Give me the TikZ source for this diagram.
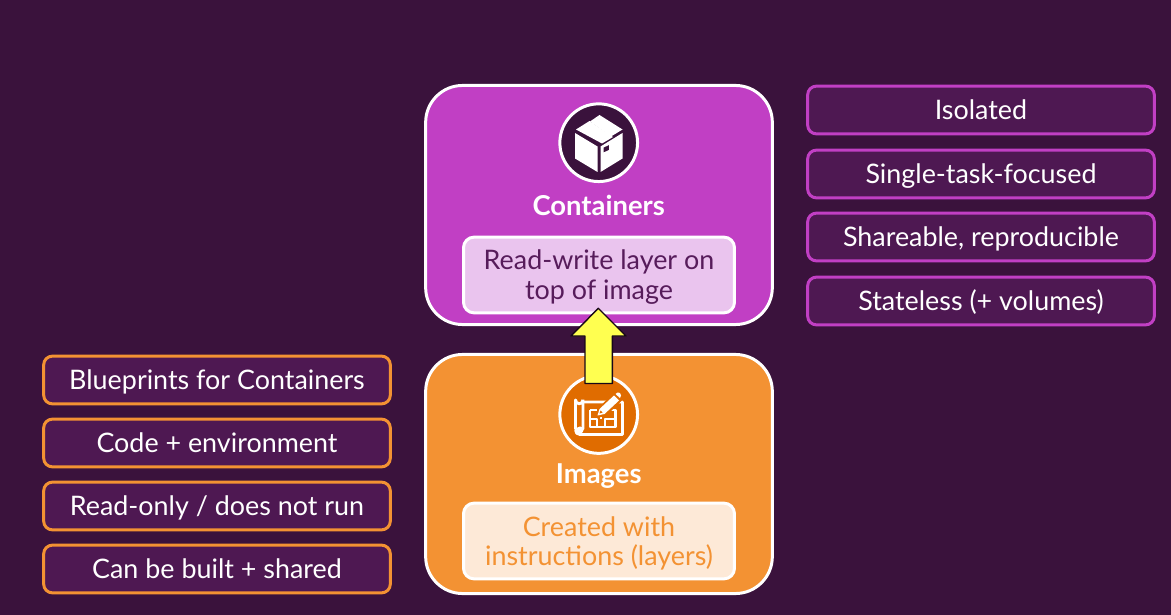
\documentclass[tikz,border=0pt]{standalone}
\usepackage{fontspec}
\setmainfont{Lato}
\definecolor{pagebg}{HTML}{3A123C}
\definecolor{tagbg}{HTML}{4E1852}
\definecolor{purplebox}{HTML}{C13FC4}
\definecolor{orangebox}{HTML}{F39233}
\definecolor{purplesoft}{HTML}{EAC4EE}
\definecolor{orangesoft}{HTML}{FDE9D7}
\definecolor{orangedeep}{HTML}{E06C00}
\definecolor{purpletext}{HTML}{571C5B}
\definecolor{arrowfill}{HTML}{FFFF50}

\begin{document}
\begin{tikzpicture}[x=0.02cm,y=-0.02cm,
panel/.style={draw=white,line width=3*0.567pt,rounded corners=21pt,minimum width=348*0.567pt,minimum height=240*0.567pt,inner sep=0pt},
layerbox/.style={draw=white,line width=3*0.567pt,rounded corners=6pt,minimum width=272*0.567pt,minimum height=76*0.567pt,inner sep=0pt,align=center,font=\fontsize{15.3}{17}\selectfont},
tag/.style={fill=tagbg,line width=3*0.567pt,rounded corners=5pt,minimum width=348*0.567pt,minimum height=48*0.567pt,inner sep=0pt,text=white,text height=13pt,text depth=2pt,font=\fontsize{15.3}{17}\selectfont},
orangetag/.style={tag,draw=orangebox},
purpletag/.style={tag,draw=purplebox},
title/.style={text=white,font=\fontsize{15.6}{17}\selectfont\bfseries,inner sep=0pt,text height=12pt,text depth=1.5pt},
badge/.style={circle,draw=white,line width=3*0.567pt,minimum size=78*0.567pt,inner sep=0pt}]
\fill[pagebg] (0,0) rectangle (1171,615);
% left column
\node[orangetag] (blueprints) at (217,380) {Blueprints for Containers};
\node[orangetag] (code) at (217,443) {Code + environment};
\node[orangetag] (readonly) at (217,506) {Read-only / does not run};
\node[orangetag] (shared) at (217,569) {Can be built + shared};
% right column
\node[purpletag] (isolated) at (981,110) {Isolated};
\node[purpletag] (focused) at (981,174) {Single-task-focused};
\node[purpletag] (shareable) at (981,237) {Shareable, reproducible};
\node[purpletag] (stateless) at (981,301) {Stateless (+ volumes)};
% containers
\node[panel,fill=purplebox] (containers) at (599,205) {};
\node[badge,fill=pagebg] (boxbadge) at (598.7,142.7) {};
\node[title] (containerstitle) at (598.7,206) {Containers};
\node[layerbox,fill=purplesoft,text=purpletext] (rwlayer) at (599,275) {\rule{0pt}{14pt}Read-write layer on\\top of image};
% images
\node[panel,fill=orangebox] (images) at (599,474) {};
\node[badge,fill=orangedeep] (planbadge) at (598.7,414.5) {};
\node[title] (imagestitle) at (598.7,474) {Images};
\node[layerbox,fill=orangesoft,text=orangebox] (created) at (599,541) {\rule{0pt}{14pt}Created with\\instructions (layers)};
% box icon
\fill[white] (576,129.5) -- (589.5,121) -- (613,137) -- (602,143.5) -- cycle;
\fill[white] (590,121.5) -- (599.5,115) -- (622.5,129.5) -- (611,136.5) -- cycle;
\fill[white] (575,133) -- (597.5,146.5) -- (597.5,172) -- (575,158.5) -- cycle;
\fill[white,even odd rule] (600.5,146.5) -- (622.5,133) -- (622.5,158.5) -- (600.5,172) -- cycle
  (603.5,147.5) -- (609,145) -- (609,150) -- (603.5,152.5) -- cycle;
% plan icon
\begin{scope}[draw=white,line width=1.7pt,line join=round]
\draw (583,399.5) -- (583,429) -- (575.5,429) -- (575.5,400) arc (180:0:3.75) ;
\draw (583,402) -- (622.5,402) -- (622.5,434.5) -- (580,434.5) arc (90:180:4.5);
\draw (590,410) -- (597,410);
\draw (606,410) -- (615.5,410) -- (615.5,427) -- (590,427) -- (590,410);
\draw (590,419) -- (597,419) -- (597,427);
\draw (615.5,419) -- (605,419) -- (605,427);
\draw (601,410) -- (601,419);
\fill[white] (580,430) circle (2pt);
\end{scope}
\fill[orangedeep] (595.5,418) -- (598,408) -- (614,393) -- (622,400.5) -- (606,416) -- cycle;
\fill[white] (597.5,415.5) -- (599.5,409) -- (614,395.5) -- (619,400.5) -- (604.5,414) -- cycle;
\fill[white] (615.5,394) -- (617.5,392.5) -- (620,393) -- (621,395.5) -- (620,398) -- cycle;
\fill[orangedeep] (599.5,413.5) -- (600.5,410.5) -- (602.5,412.5) -- cycle;
% arrow between the two
\draw[fill=arrowfill,draw=black!60!pagebg,line width=0.8pt,line join=round] (598.3,308.3) -- (626,336) -- (612.3,336) -- (612.3,383.5) -- (585,383.5) -- (585,336) -- (571,336) -- cycle;
\end{tikzpicture}
\end{document}
